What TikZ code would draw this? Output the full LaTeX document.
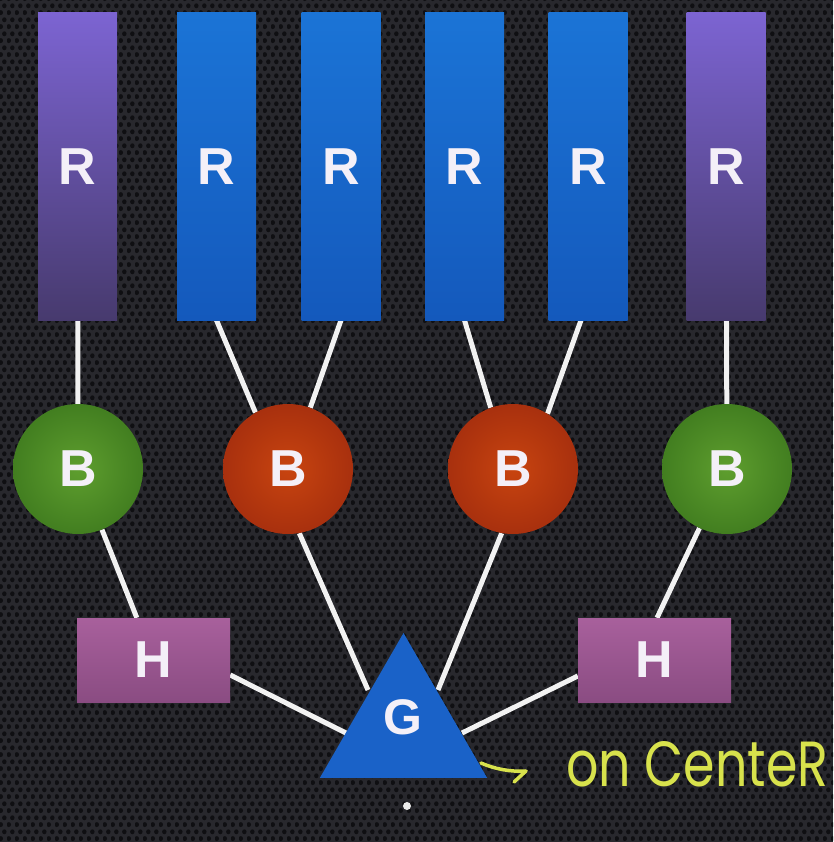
\documentclass[tikz,border=0pt]{standalone}
\usepackage{fontspec}
\setmainfont{Liberation Sans}
\newfontfamily\handfont{Poppins}
\usetikzlibrary{shapes.geometric,backgrounds,patterns}

% honeycomb mesh used as the backdrop texture
\pgfdeclarepatternformonly{hexmesh}{\pgfqpoint{0pt}{0pt}}{\pgfqpoint{8pt}{13.8pt}}{\pgfqpoint{8pt}{13.8pt}}{%
  \pgfpathcircle{\pgfqpoint{2pt}{3.45pt}}{2.5pt}%
  \pgfpathcircle{\pgfqpoint{6pt}{10.35pt}}{2.5pt}%
  \pgfusepath{fill}}

\definecolor{bgbase}{HTML}{28282D}
\definecolor{bgdot}{HTML}{0F0F12}
\definecolor{labelwhite}{HTML}{F4F0F8}
\definecolor{purpletop}{HTML}{7C64D2}
\definecolor{purplebot}{HTML}{473A6E}
\definecolor{bluetop}{HTML}{1B74D6}
\definecolor{bluebot}{HTML}{1459BC}
\definecolor{greenin}{HTML}{5E9E2E}
\definecolor{greenout}{HTML}{427E20}
\definecolor{redin}{HTML}{C8440F}
\definecolor{redout}{HTML}{A8300E}
\definecolor{htop}{HTML}{A8609C}
\definecolor{hbot}{HTML}{8A4C82}
\definecolor{gblue}{HTML}{1A62C8}
\definecolor{wirewhite}{HTML}{F2F2F2}
\definecolor{handyellow}{HTML}{D8E24C}

\begin{document}
\begin{tikzpicture}[x=1pt,y=-1pt,
  lbl/.style={text=labelwhite, font=\fontsize{52}{60}\selectfont\bfseries},
  rbar/.style={lbl, rectangle, minimum width=79pt, minimum height=307pt, inner sep=0pt},
  rpurple/.style={rbar, top color=purpletop, bottom color=purplebot},
  rblue/.style={rbar, top color=bluetop, bottom color=bluebot},
  bball/.style={lbl, circle, minimum size=130pt, inner sep=0pt},
  bgreen/.style={bball, inner color=greenin, outer color=greenout},
  bred/.style={bball, inner color=redin, outer color=redout},
  hbox/.style={lbl, rectangle, minimum width=153pt, minimum height=84pt, inner sep=0pt,
    top color=htop, bottom color=hbot},
  gtri/.style={regular polygon, regular polygon sides=3, minimum size=193pt, inner sep=0pt, fill=gblue},
  wire/.style={draw=wirewhite, line width=5pt},
  hand/.style={draw=handyellow, line width=3.5pt, line cap=round, line join=round}
]
\useasboundingbox (0,0) rectangle (833,842);

% receptor bars
\node[rpurple] (R1) at (77.5,166.5) {R};
\node[rblue]   (R2) at (216.5,166.5) {R};
\node[rblue]   (R3) at (341,166.5) {R};
\node[rblue]   (R4) at (464.5,166.5) {R};
\node[rblue]   (R5) at (588,166.5) {R};
\node[rpurple] (R6) at (726,166.5) {R};

% bipolar cells
\node[bgreen] (B1) at (78,469) {B};
\node[bred]   (B2) at (288,469) {B};
\node[bred]   (B3) at (513,469) {B};
\node[bgreen] (B4) at (727,469) {B};

% horizontal cells
\node[hbox] (H1) at (153.5,660) {H};
\node[hbox] (H2) at (654.5,660) {H};

% ganglion cell
\node[gtri] (G) at (403.5,729.5) {};
\node[lbl, font=\fontsize{50}{56}\selectfont\bfseries] (Gt) at (403,717) {G};

% contact points on the ganglion triangle
\coordinate (gb2) at (368,690);
\coordinate (gb3) at (438,690);
\coordinate (gh1) at (346,733);
\coordinate (gh2) at (462,733);
\coordinate (gtip) at (481,763);

% annotation
\node[anchor=base west, inner sep=0pt, text=handyellow] (note) at (566,786)
  {\resizebox{262pt}{45pt}{\handfont on CenteR}};

\begin{pgfonlayer}{background}
  \fill[bgbase] (0,0) rectangle (833,842);
  \fill[pattern=hexmesh, pattern color=bgdot] (0,0) rectangle (833,842);

  \draw[wire] (R1) -- (B1);
  \draw[wire] (R2.south) -- (B2.120);
  \draw[wire] (R3.south) -- (B2.70);
  \draw[wire] (R4.south) -- (B3.110);
  \draw[wire] ([xshift=-7pt]R5.south) -- (B3.58);
  \draw[wire] (R6) -- (B4);

  \draw[wire] (B1) -- (H1);
  \draw[wire] (B4.-115) -- ([xshift=2.5pt]H2.north);
  \draw[wire] (B2.-80) -- (gb2);
  \draw[wire] (B3.-100) -- (gb3);
  \draw[wire] ([yshift=-15pt]H1.east) -- (gh1);
  \draw[wire] ([yshift=-16pt]H2.west) -- (gh2);
\end{pgfonlayer}

% hand-drawn pointer towards the ganglion cell
\draw[hand] (gtip) .. controls (495,769) and (510,772) .. (526,771);
\draw[hand] (526,771) -- (514,782);

% small marker below the triangle
\fill[white!85!gray] (407,806) circle (4);
\end{tikzpicture}
\end{document}
